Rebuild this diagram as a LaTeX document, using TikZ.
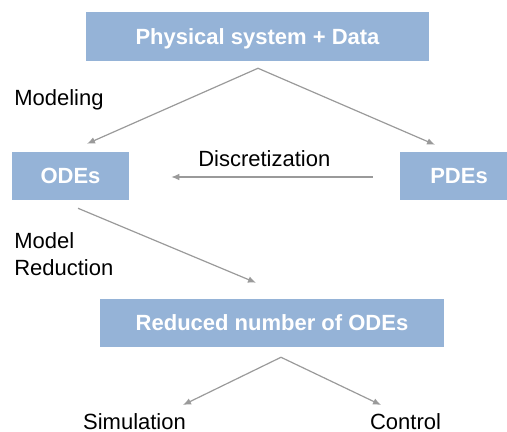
\documentclass[tikz,border=0pt]{standalone}
\usepackage{fontspec}
\setmainfont{Liberation Sans}
\usetikzlibrary{arrows.meta,positioning}
\definecolor{bleuboite}{HTML}{95B3D7}
\definecolor{grisfleche}{HTML}{9A9A9A}
\begin{document}
\begin{tikzpicture}[x=0.75pt,y=-0.75pt]
	% Styles (MODIFIABLES)
	\def\px{0.75pt}
	\tikzstyle{fleche}=[->,>={Latex[length=6pt,width=5pt]},draw=grisfleche,line width=0.9pt]
	\tikzstyle{boite}=[fill=bleuboite,text=white,font=\fontsize{16.5}{19.8}\selectfont\bfseries,inner sep=0pt,text height=15.75*\px,text depth=0pt]
	\tikzstyle{commentaire}=[black,font=\fontsize{16.5}{19.8}\selectfont,inner sep=0pt]
	% Cadre
	\useasboundingbox (0,0) rectangle (507,432);
	% Boites
	\node[boite,minimum width=343*\px,minimum height=49*\px] (Systeme) at (257.5,36.5) {Physical system + Data};
	\node[boite,minimum width=117*\px,minimum height=48*\px] (ODE) at (70.5,176) {ODEs};
	\node[boite,minimum width=118*\px,minimum height=48*\px] (PDE) at (459,176) {PDEs};
	\node[boite,minimum width=344*\px,minimum height=48*\px] (Reduit) at (272,323) {Reduced number of ODEs};
	% Feuilles
	\node[commentaire,anchor=base] (Simu) at (134.5,429) {Simulation};
	\node[commentaire,anchor=base] (Controle) at (405.5,429) {Control};
	% Commentaires
	\node[commentaire,anchor=base west] (Modelisation) at (14,105) {Modeling};
	\node[commentaire,anchor=base west] (Discretisation) at (198,166) {Discretization};
	\node[commentaire,anchor=base west] (Modele) at (14,248) {Model};
	\node[commentaire,anchor=base west] (Reduction) at (14,275) {Reduction};
	% Arcs (MODIFIABLES : Styles)
	\draw[fleche] ([shift={(0.5,7)}]Systeme.south) -- ([shift={(16.5,-8)}]ODE.north);
	\draw[fleche] ([shift={(0.5,7)}]Systeme.south) -- ([shift={(-24,-7)}]PDE.north);
	\draw[fleche] ([shift={(-27,1)}]PDE.west) -- ([shift={(42,1)}]ODE.east);
	\draw[fleche] ([shift={(7.5,8)}]ODE.south) -- ([shift={(-16,-16)}]Reduit.north);
	\draw[fleche] ([shift={(9,10)}]Reduit.south) -- ([shift={(48.5,-24)}]Simu.base);
	\draw[fleche] ([shift={(9,10)}]Reduit.south) -- ([shift={(-24.5,-24)}]Controle.base);
\end{tikzpicture}
\end{document}
